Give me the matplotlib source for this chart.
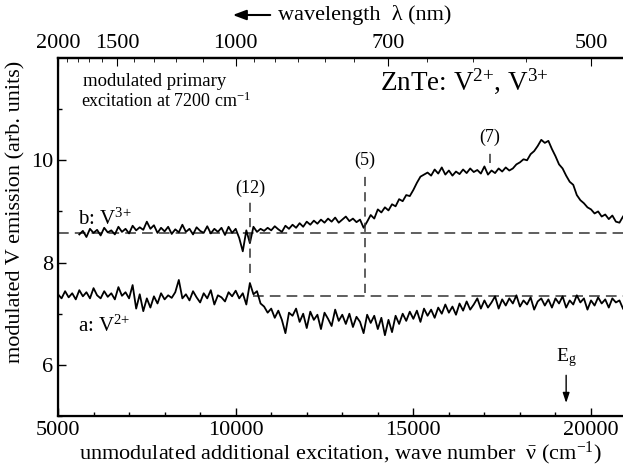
import matplotlib
matplotlib.use('Agg')
import matplotlib.pyplot as plt
import numpy as np
from matplotlib.ticker import FixedLocator, MultipleLocator

plt.rcParams['font.family'] = ['Liberation Serif', 'DejaVu Serif']
plt.rcParams['mathtext.fontset'] = 'custom'
plt.rcParams['mathtext.rm'] = 'Liberation Serif'
plt.rcParams['mathtext.it'] = 'Liberation Serif:italic'

# b: V3+ spectrum, sampled every 100 cm-1 from 5600
b_start = 5600
emis_b = [
    8.55, 8.62, 8.50, 8.66, 8.58, 8.64, 8.53, 8.68, 8.59, 8.63,
    8.55, 8.70, 8.60, 8.66, 8.57, 8.72, 8.63, 8.69, 8.64, 8.80,
    8.66, 8.73, 8.58, 8.68, 8.61, 8.70, 8.56, 8.65, 8.59, 8.74,
    8.60, 8.66, 8.55, 8.69, 8.62, 8.58, 8.71, 8.57, 8.66, 8.60,
    8.68, 8.54, 8.70, 8.58, 8.66, 8.48, 8.22, 8.63, 8.38, 8.70,
    8.60, 8.66, 8.62, 8.68, 8.63, 8.71, 8.65, 8.60, 8.72, 8.66,
    8.74, 8.68, 8.77, 8.70, 8.80, 8.74, 8.82, 8.76, 8.84, 8.78,
    8.86, 8.80, 8.88, 8.78, 8.84, 8.90, 8.81, 8.86, 8.79, 8.84,
    8.68, 8.80, 8.93, 8.86, 9.04, 8.98, 9.08, 9.02, 9.14, 9.10,
    9.24, 9.20, 9.32, 9.30, 9.42, 9.56, 9.68, 9.72, 9.76, 9.70,
    9.82, 9.74, 9.86, 9.72, 9.80, 9.70, 9.78, 9.73, 9.82, 9.75,
    9.84, 9.77, 9.81, 9.74, 9.88, 9.72, 9.80, 9.75, 9.84, 9.78,
    9.86, 9.80, 9.84, 9.92, 9.96, 10.02, 10.00, 10.12, 10.18, 10.28,
    10.40, 10.34, 10.38, 10.22, 10.08, 9.92, 9.84, 9.70, 9.58, 9.52,
    9.32, 9.22, 9.16, 9.08, 9.04, 8.96, 9.00, 8.90, 8.94, 8.85,
    8.92, 8.80, 8.78, 8.90,
]

# a: V2+ spectrum, sampled every 100 cm-1 from 5000
a_start = 5000
emis_a = [
    7.38, 7.30, 7.44, 7.32, 7.40, 7.28, 7.46, 7.34, 7.42, 7.30,
    7.50, 7.36, 7.30, 7.44, 7.33, 7.40, 7.28, 7.52, 7.35, 7.42,
    7.30, 7.56, 7.10, 7.38, 7.05, 7.30, 7.12, 7.34, 7.20, 7.40,
    7.28, 7.36, 7.31, 7.42, 7.66, 7.30, 7.38, 7.26, 7.44, 7.32,
    7.22, 7.40, 7.30, 7.46, 7.18, 7.36, 7.32, 7.24, 7.42, 7.34,
    7.45, 7.30, 7.40, 7.18, 7.60, 7.38, 7.44, 7.20, 7.14, 7.02,
    7.10, 6.92, 7.06, 6.88, 6.62, 7.02, 6.96, 7.10, 6.84, 7.00,
    6.72, 7.04, 6.88, 6.98, 6.70, 7.02, 6.90, 6.76, 7.08, 6.86,
    6.98, 6.80, 7.00, 6.74, 6.94, 6.84, 6.62, 6.98, 6.82, 6.96,
    6.70, 6.92, 6.58, 6.88, 6.64, 6.96, 6.80, 7.00, 6.86, 7.04,
    6.90, 7.06, 6.84, 7.10, 6.96, 7.08, 6.92, 7.12, 7.00, 7.18,
    7.02, 7.14, 6.98, 7.20, 7.06, 7.24, 7.08, 7.18, 7.30, 7.10,
    7.26, 7.12, 7.22, 7.34, 7.10, 7.28, 7.16, 7.30, 7.20, 7.36,
    7.14, 7.26, 7.18, 7.32, 7.08, 7.24, 7.30, 7.16, 7.28, 7.12,
    7.30, 7.20, 7.34, 7.12, 7.26, 7.18, 7.36, 7.22, 7.30, 7.08,
    7.26, 7.16, 7.32, 7.20, 7.28, 7.12, 7.30, 7.22, 7.26, 7.10,
]

step = 100
base_b = 8.58
base_a = 7.35
dash_a_start = 10500

# transition markers
trans_labels = ['(12)', '(5)', '(7)']
trans_wn = [10400, 13640, 17160]
trans_text_y = [9.45, 10.0, 10.45]
trans_top = [9.2, 9.72, 10.25]
trans_bottom = [7.8, 7.4, 9.95]

eg_wn = 19300

top_major = [2000, 1500, 1000, 700, 500]
top_minor = [1900, 1800, 1700, 1600, 1400, 1300, 1200, 1100,
             950, 900, 850, 800, 750, 650, 600, 550]

xmin, xmax = 5000, 20900

wn_b = b_start + step * np.arange(len(emis_b))
wn_a = a_start + step * np.arange(len(emis_a))

fig = plt.figure(figsize=(6.23, 4.68), dpi=100)
ax = fig.add_axes([58/623, 52/468, 1 - 58/623, 358/468])

dash = (0, (7, 4))
ax.hlines(base_b, xmin, xmax, color='#333333', lw=1.1, linestyle=dash)
ax.hlines(base_a, dash_a_start, xmax, color='#333333', lw=1.1, linestyle=dash)
ax.plot(wn_b, emis_b, color='k', lw=1.3)
ax.plot(wn_a, emis_a, color='k', lw=1.3)

for lab, x, ty, t0, t1 in zip(trans_labels, trans_wn, trans_text_y, trans_top, trans_bottom):
    ax.vlines(x, t1, t0, color='#333333', lw=1.1, linestyle=(0, (6, 4)))
    ax.text(x, ty, lab, ha='center', va='center', fontsize=13)

ax.annotate('', xy=(eg_wn, 5.2), xytext=(eg_wn, 5.85),
            arrowprops=dict(arrowstyle='-|>,head_length=0.6,head_width=0.2',
                            color='k', lw=1.0))
ax.text(eg_wn, 6.15, r'E$_\mathrm{g}$', ha='center', va='center', fontsize=14)

ax.text(5550, 8.85, r'b: V$^{3{+}}$', ha='left', va='center', fontsize=15)
ax.text(5550, 6.75, r'a: V$^{2{+}}$', ha='left', va='center', fontsize=15)
ax.text(5700, 11.55, 'modulated primary', ha='left', va='center', fontsize=13.5)
ax.text(5650, 11.15, r'excitation at 7200 cm$^{-1}$', ha='left', va='center', fontsize=13)
ax.text(14050, 11.55, r'ZnTe: V$^{2{+}}$, V$^{3{+}}$', ha='left', va='center', fontsize=19.5)

ax.set_xlim(xmin, xmax)
ax.set_ylim(5, 12)
ax.xaxis.set_major_locator(FixedLocator([5000, 10000, 15000, 20000]))
ax.xaxis.set_minor_locator(MultipleLocator(1000))
ax.yaxis.set_major_locator(FixedLocator([6, 8, 10]))
ax.yaxis.set_minor_locator(FixedLocator([5, 7, 9, 11]))
ax.tick_params(which='both', direction='in', top=False, right=False, labelsize=16)
ax.tick_params(which='major', length=6, width=1.0)
ax.tick_params(which='minor', length=3, width=1.0)
ax.spines['right'].set_visible(False)
for s in ['left', 'bottom', 'top']:
    ax.spines[s].set_linewidth(1.6)

ax.set_xlabel(r'unmodulated additional excitation, wave number  $\bar{\mathrm{\nu}}$ (cm$^{-1}$)',
              fontsize=16, labelpad=0)
fig.text(16/623, 1 - 212/468, 'modulated V emission (arb. units)', rotation=90,
         ha='center', va='center', fontsize=16)

ax2 = ax.twiny()
ax2.set_xlim(xmin, xmax)
ax2.xaxis.set_major_locator(FixedLocator([1e7 / w for w in top_major]))
ax2.xaxis.set_minor_locator(FixedLocator([1e7 / w for w in top_minor]))
ax2.set_xticklabels([str(w) for w in top_major])
ax2.tick_params(which='both', direction='in', labelsize=16)
ax2.tick_params(which='major', length=6)
ax2.tick_params(which='minor', length=3)
ax2.spines['right'].set_visible(False)
ax2.spines['top'].set_linewidth(1.6)

fig.text(278/623, 1 - 15/468, 'wavelength  λ (nm)', ha='left', va='center', fontsize=16)
fig.patches.append(matplotlib.patches.FancyArrowPatch(
    (273/623, 1 - 15/468), (230/623, 1 - 15/468), transform=fig.transFigure,
    arrowstyle='-|>,head_length=8,head_width=3', color='k', lw=1.5))

fig.savefig('out.png', dpi=100)
